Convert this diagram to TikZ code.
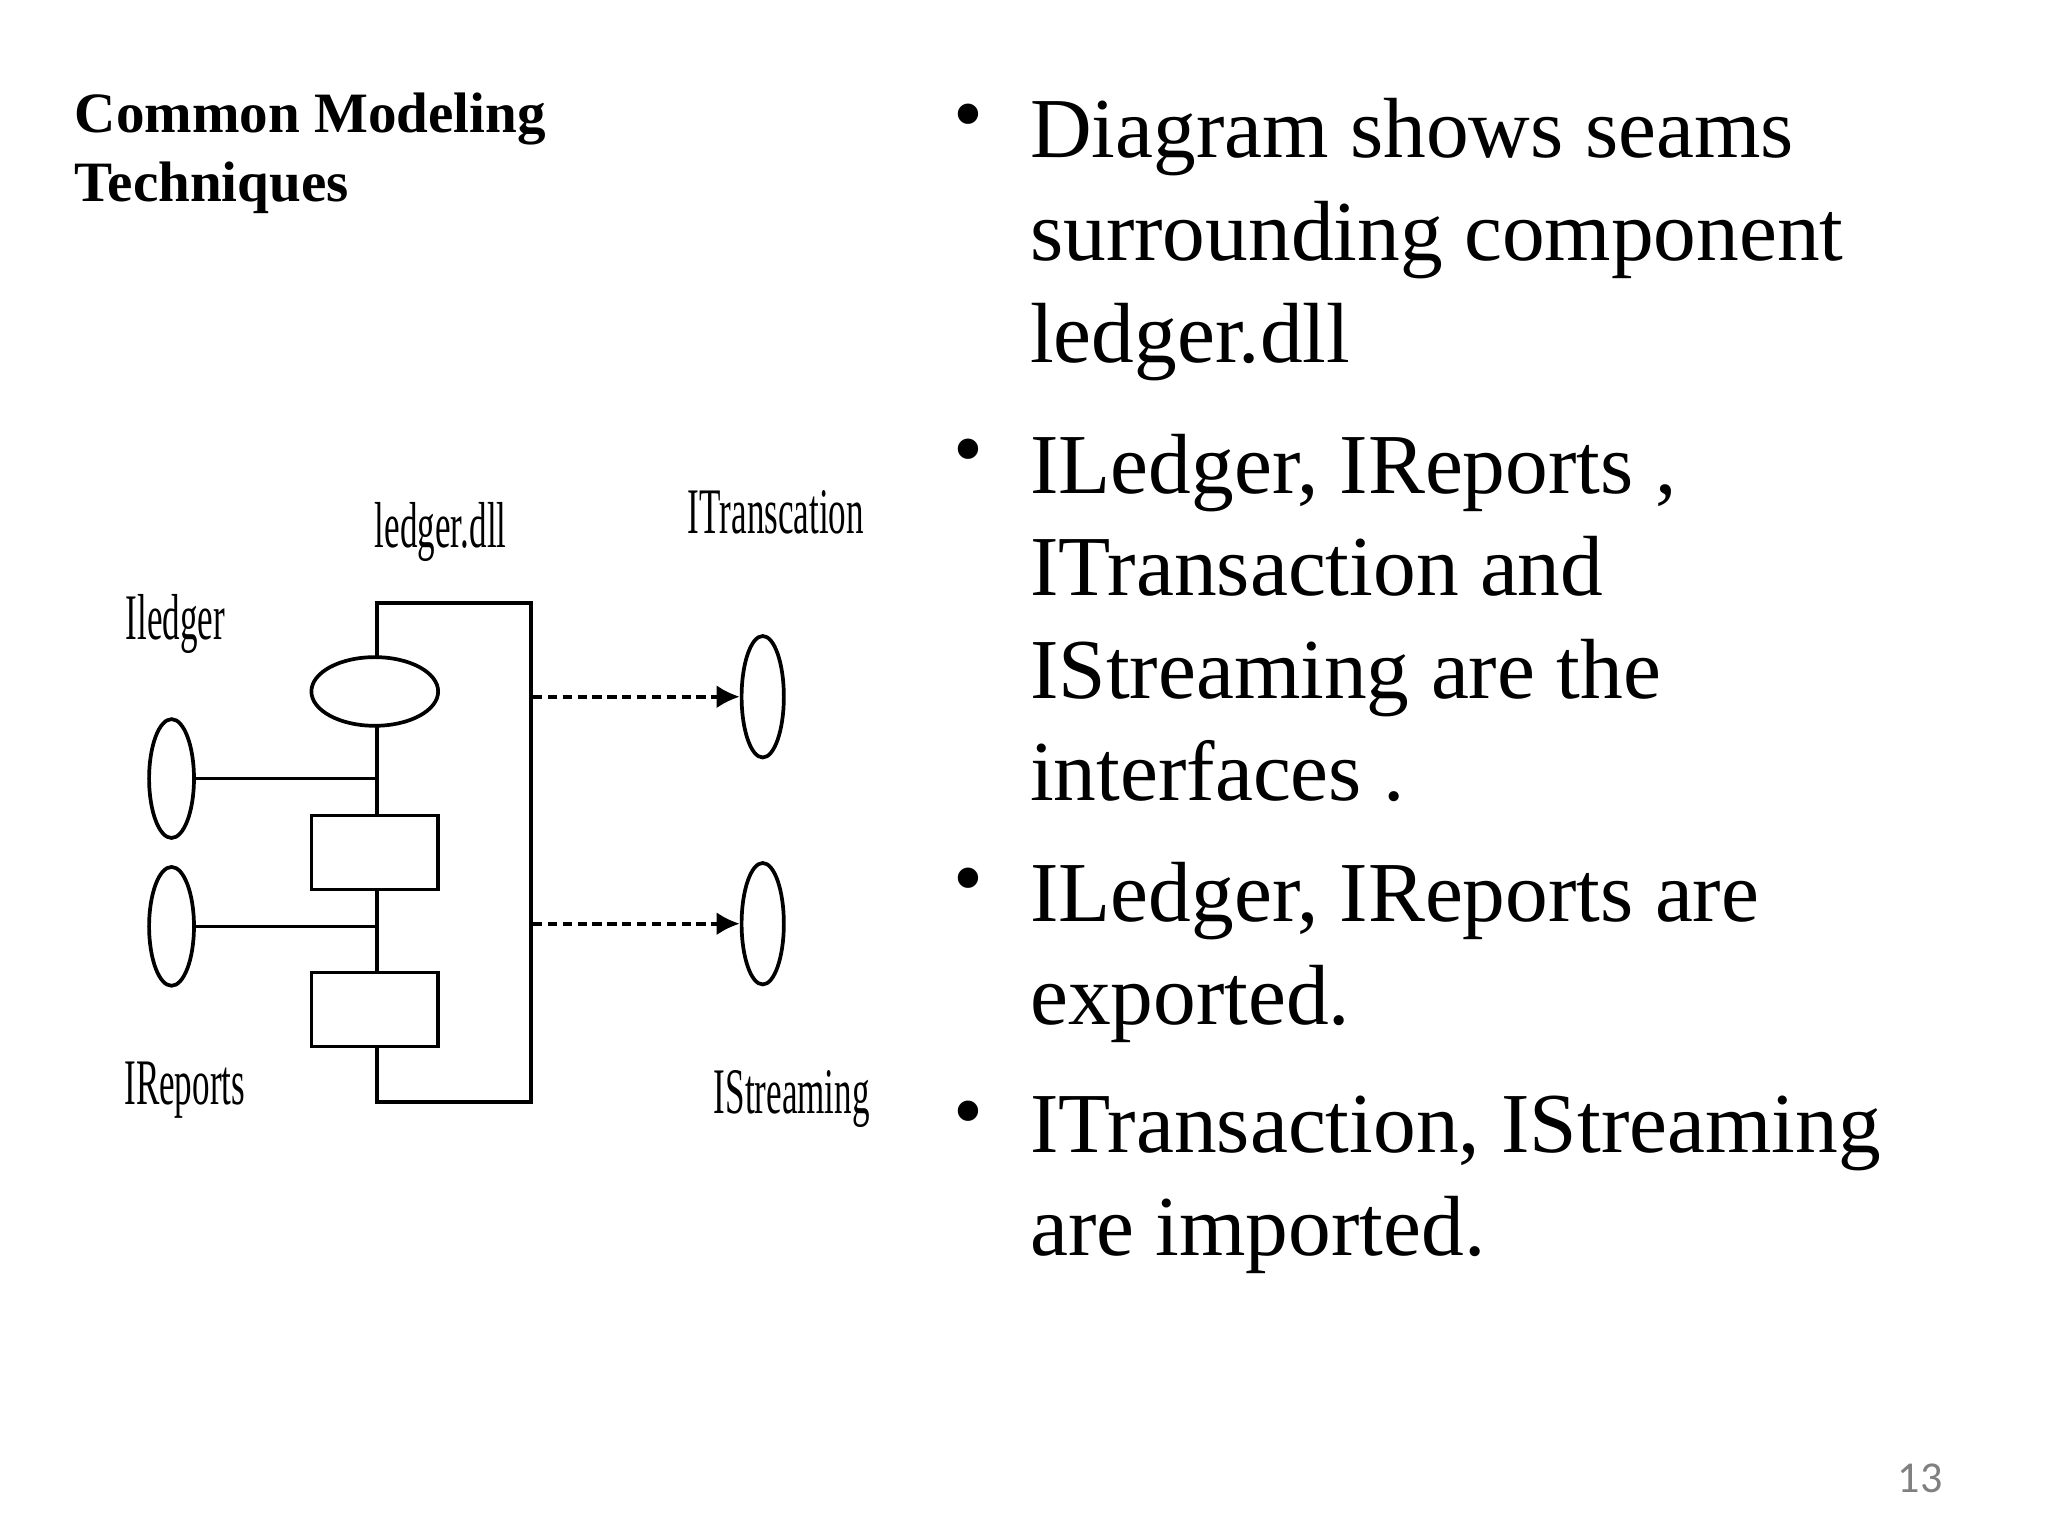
\documentclass[tikz,border=0pt]{standalone}
\usepackage{fontspec}
\setmainfont{Liberation Serif}
\newfontfamily\pagefont{Carlito}
\usetikzlibrary{arrows.meta, positioning, shapes.geometric}
\tikzset{
    bullet text/.style={anchor=north west, inner sep=0pt, align=left, font=\fontsize{18.4}{22.1}\selectfont},
    bullet dot/.style={anchor=north west, inner sep=0pt, font=\fontsize{18.4}{22.1}\selectfont},
    port/.style={draw, thick, ellipse, fill=white, inner sep=0pt},
    part/.style={draw, thick, rectangle, fill=white, inner sep=0pt, minimum width=0.96cm, minimum height=0.56cm},
    tag/.style={inner sep=0pt, font=\fontsize{14}{14}\selectfont, xscale=0.54},
    seam/.style={thick, dashed, dash pattern=on 2pt off 1.2pt, -{Latex[length=5pt,width=5pt]}}
}
\begin{document}
\begin{tikzpicture}[x=0.01cm, y=-0.01cm]
    \useasboundingbox (0,0) rectangle (1552,1164);
    % title
    \node[anchor=north west, inner sep=0pt, align=left, font=\bfseries\fontsize{12.3}{14.8}\selectfont] (title) at (56,70) {Common Modeling\\Techniques};
    % bullets
    \node[bullet dot] (d1) at (722,78) {•};
    \node[bullet text] (b1) at (780,74) {Diagram shows seams\\surrounding component\\ledger.dll};
    \node[bullet dot] (d2) at (722,332) {•};
    \node[bullet text] (b2) at (780,328) {ILedger, IReports ,\\ITransaction and\\IStreaming are the\\interfaces .};
    \node[bullet dot] (d3) at (722,657) {•};
    \node[bullet text] (b3) at (780,653) {ILedger, IReports are\\exported.};
    \node[bullet dot] (d4) at (722,834) {•};
    \node[bullet text] (b4) at (780,830) {ITransaction, IStreaming\\are imported.};
    \node[font=\pagefont\fontsize{9.5}{10}\selectfont, text=gray] (pg) at (1455,1120) {13};
    % component and its seams
    \node[draw, thick, rectangle, inner sep=0pt, minimum width=1.17cm, minimum height=3.78cm] (comp) at (344,646) {};
    \node[port, minimum width=0.96cm, minimum height=0.52cm] (seam) at (284,524) {};
    \node[part] (p1) at (284,646) {};
    \node[part] (p2) at (284,765) {};
    \node[port, minimum width=0.34cm, minimum height=0.9cm] (il) at (130,590) {};
    \node[port, minimum width=0.34cm, minimum height=0.9cm] (ir) at (130,702) {};
    \node[port, minimum width=0.32cm, minimum height=0.92cm] (it) at (578,528) {};
    \node[port, minimum width=0.32cm, minimum height=0.92cm] (is) at (578,700) {};
    \draw[thick] (il.east) -- (il.east -| comp.west);
    \draw[thick] (ir.east) -- (ir.east -| comp.west);
    \draw[seam] (comp.east |- it.west) -- (it.west);
    \draw[seam] (comp.east |- is.west) -- (is.west);
    % labels
    \node[tag] (ldll) at (334,403) {ledger.dll};
    \node[tag] (lil) at (133,473) {Iledger};
    \node[tag] (lir) at (140,826) {IReports};
    \node[tag] (lit) at (588,388) {ITranscation};
    \node[tag] (lis) at (600,833) {IStreaming};
\end{tikzpicture}
\end{document}
